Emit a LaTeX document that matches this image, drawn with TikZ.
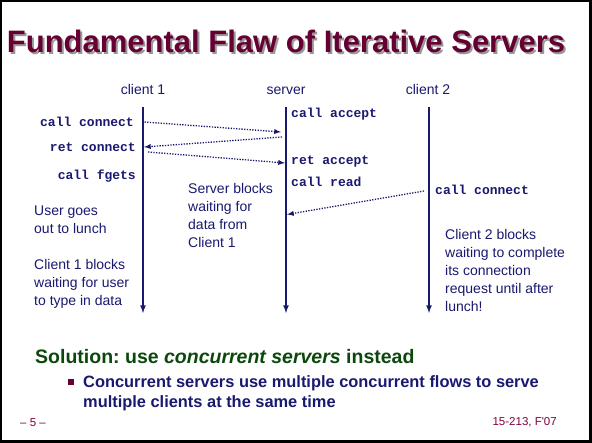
\documentclass[tikz,border=0pt]{standalone}
\usepackage{fontspec}
\setmainfont{Liberation Sans}
\setmonofont{Liberation Mono}
\usetikzlibrary{positioning}
\definecolor{slideblue}{RGB}{25,25,112}
\definecolor{slidered}{RGB}{102,0,51}
\definecolor{slidegreen}{RGB}{12,72,12}
\definecolor{footred}{RGB}{128,0,64}
\frenchspacing

\begin{document}
\begin{tikzpicture}[%
    x=1pt, y=-1pt,              % one unit is one pixel of the slide, y goes down
    >=latex,                    % small filled tips
    node distance=3pt and 6pt,  % Global setup of label spacing
    ]
% -------------------------------------------------
% A few text and line styles
\tikzset{
  ttl/.style={anchor=base, inner sep=0pt, font=\fontsize{31}{36}\selectfont\bfseries},
  head/.style={anchor=base, inner sep=0pt, text=slideblue, font=\fontsize{14}{18}\selectfont},
  blk/.style={anchor=north west, inner sep=0pt, align=left, text=slideblue,
    font=\fontsize{14}{18}\selectfont},
  code/.style={inner sep=0pt, text=slideblue, font=\fontsize{13}{15}\selectfont\ttfamily\bfseries},
  % Connector line styles
  life/.style={->, draw=slideblue, line width=1.6pt},
  msg/.style={->, draw=slideblue, line width=1.3pt, dash pattern=on 1.3pt off 1.4pt},
  foot/.style={inner sep=0pt, text=footred, font=\fontsize{11.5}{14}\selectfont}
}
% -------------------------------------------------
% Slide frame
\fill[black] (0,0) rectangle (592,443);
\fill[white] (2,2) rectangle (589,440);
\useasboundingbox (0,0) rectangle (592,443);

% Title with its shadow
\node [ttl, text=black!40] (ts) at (288,55) {Fundamental Flaw of Iterative Servers};
\node [ttl, text=slidered] (t) at (286,53) {Fundamental Flaw of Iterative Servers};

% Start by placing the column heads and lifelines
\node [head] (a) at (143,94.5) {client 1};
\node [head] (b) at (286,94.5) {server};
\node [head] (c) at (428,94.5) {client 2};
\coordinate (a1) at (143,107); \coordinate (a2) at (143,313);
\coordinate (b1) at (286,107); \coordinate (b2) at (286,313);
\coordinate (c1) at (429,107); \coordinate (c2) at (429,313);

% Calls on each lifeline
\node [code, anchor=base east] (d) at (134,126.5) {call connect};
\node [code, anchor=base east] (e) at (136,151.5) {ret connect};
\node [code, anchor=base east] (f) at (136,179.5) {call fgets};
\node [code, anchor=base west] (g) at (291,117.5) {call accept};
\node [code, anchor=base west] (h) at (291,164.5) {ret accept};
\node [code, anchor=base west] (i) at (291,186.5) {call read};
\node [code, anchor=base west] (j) at (435,194.5) {call connect};

% Notes
\node [blk] (k) at (34,205.3) {User goes\\out to lunch};
\node [blk] (l) at (34,259.3) {Client 1 blocks\\waiting for user\\to type in data};
\node [blk] (m) at (188,183.3) {Server blocks\\waiting for\\data from\\Client 1};
\node [blk] (n) at (445,229.3) {Client 2 blocks\\waiting to complete\\its connection\\request until after\\lunch!};

% Message end points
\coordinate (p1) at (144.5,122); \coordinate (q1) at (281,132);
\coordinate (q2) at (282,137);   \coordinate (p2) at (144,147);
\coordinate (p3) at (148,152);   \coordinate (q3) at (285,163);
\coordinate (r4) at (424,191);   \coordinate (q4) at (287,214.5);

\draw[life] (a1) -- (a2);		%client 1
\draw[life] (b1) -- (b2);		%server
\draw[life] (c1) -- (c2);		%client 2
\draw[msg] (p1) -- (q1);		%call connect,call accept
\draw[msg] (q2) -- (p2);		%call accept,ret connect
\draw[msg] (p3) -- (q3);		%ret connect,ret accept
\draw[msg] (r4) -- (q4);		%client 2 call connect,server

% Solution part
\node [anchor=base west, inner sep=0pt, text=slidegreen,
  font=\fontsize{19.5}{22}\selectfont\bfseries] (s) at (35,363.5)
  {Solution: use \textit{concurrent servers} instead};
\fill[slidered] (68,379) rectangle (74,385);
\node [blk, font=\fontsize{16.4}{20}\selectfont\bfseries] (u) at (83,375.5)
  {Concurrent servers use multiple concurrent flows to serve\\multiple clients at the same time};

% Footer
\node [foot, anchor=base west] (v) at (20,427) {– 5 –};
\node [foot, anchor=base east] (w) at (557,426) {15-213, F\textquotesingle 07};
% -------------------------------------------------
\end{tikzpicture}
\end{document}
